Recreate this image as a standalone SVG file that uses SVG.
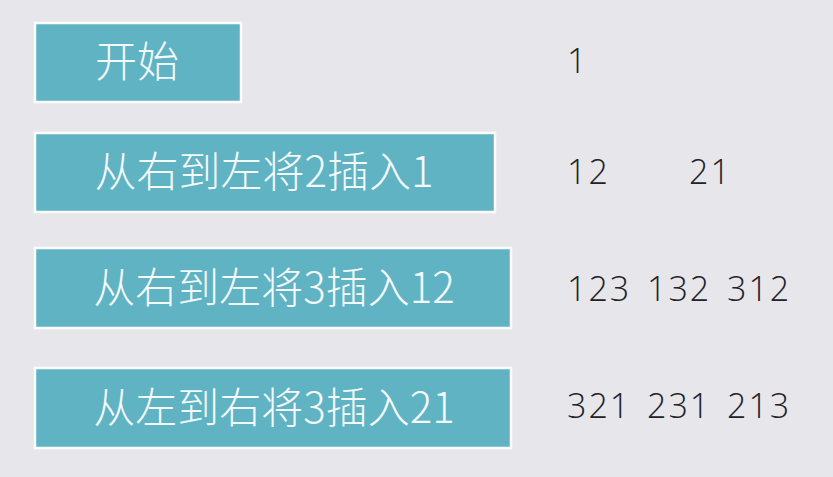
<svg xmlns="http://www.w3.org/2000/svg" width="833" height="477" viewBox="0 0 833 477">
<style>
.box{fill:#5fb3c3;stroke:#fbfdfd;stroke-width:2.5}
.lbl{font-family:"Noto Sans CJK SC","Noto Sans",sans-serif;font-weight:300;font-size:42px;fill:#f4fafb;text-anchor:middle}
.num{font-family:"Open Sans","Noto Sans",sans-serif;font-weight:300;font-size:34px;letter-spacing:2px;fill:#222226}
</style>
<rect width="833" height="477" fill="#e7e6eb"/>
<g id="n1"><rect class="box" x="35" y="23" width="206" height="79"/><text class="lbl" x="137" y="77">开始</text></g>
<g id="n2"><rect class="box" x="35" y="133" width="460" height="79"/><text class="lbl" x="264" y="187">从右到左将2插入1</text></g>
<g id="n3"><rect class="box" x="35" y="248" width="476" height="80"/><text class="lbl" x="274" y="303">从右到左将3插入12</text></g>
<g id="n4"><rect class="box" x="35" y="368" width="476" height="80"/><text class="lbl" x="274" y="423">从左到右将3插入21</text></g>
<g id="nums">
<text class="num" x="567" y="73">1</text>
<text class="num" x="567" y="184">12</text>
<text class="num" x="689" y="184">21</text>
<text class="num" x="567" y="301">123</text>
<text class="num" x="647" y="301">132</text>
<text class="num" x="727" y="301">312</text>
<text class="num" x="567" y="418">321</text>
<text class="num" x="647" y="418">231</text>
<text class="num" x="727" y="418">213</text>
</g>
<g id="connectors"/>
</svg>
